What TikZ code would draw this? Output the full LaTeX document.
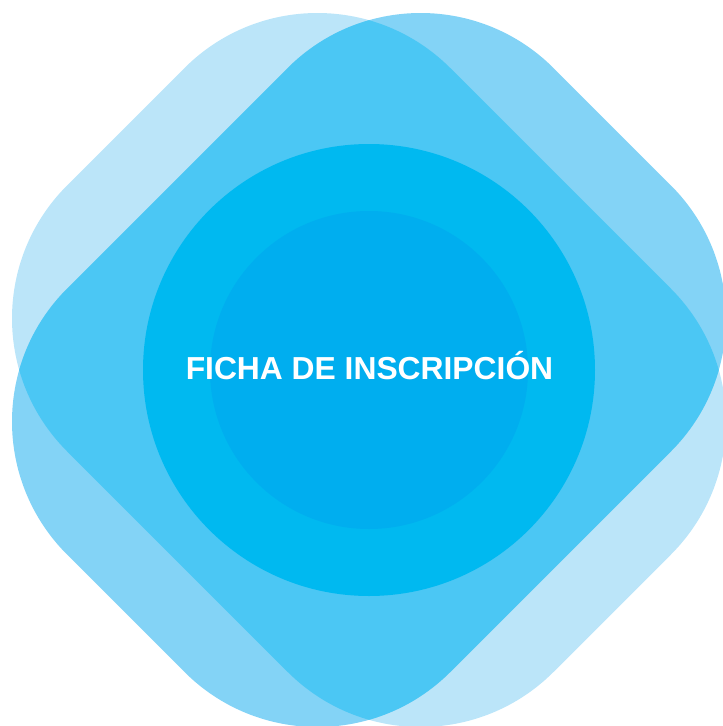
\documentclass[tikz,border=0pt]{standalone}
\usepackage{fontspec}
\setmainfont{Liberation Sans}
\definecolor{paleblue}{HTML}{BBE5F9}
\definecolor{midblue}{HTML}{83D3F6}
\definecolor{overlapblue}{HTML}{4BC7F4}
\definecolor{ringblue}{HTML}{00B9F0}
\definecolor{coreblue}{HTML}{00AEEF}

\begin{document}
\begin{tikzpicture}[x=1pt,y=-1pt,
    tile/.style={rounded corners=188pt, shift={(369,370)}}]
    \useasboundingbox (0,0) rectangle (723,726);
    \coordinate (C) at (369,370);

    \fill[paleblue, tile, rotate=-45] (-344,-271) rectangle (344,271); % long way NW-SE
    \fill[midblue, tile, rotate=45] (-344,-271) rectangle (344,271); % long way NE-SW
    \begin{scope}
        \clip[tile, rotate=-45] (-344,-271) rectangle (344,271);
        \fill[overlapblue, tile, rotate=45] (-344,-271) rectangle (344,271); % both
    \end{scope}

    \fill[ringblue] (C) circle (226);
    \fill[coreblue] (C) circle (159);

    \node[text=white, anchor=base, inner sep=0pt,
          font=\fontsize{31.8}{31.8}\selectfont\bfseries]
        (title) at (369.5,379.5) {FICHA DE INSCRIPCIÓN};
\end{tikzpicture}
\end{document}
